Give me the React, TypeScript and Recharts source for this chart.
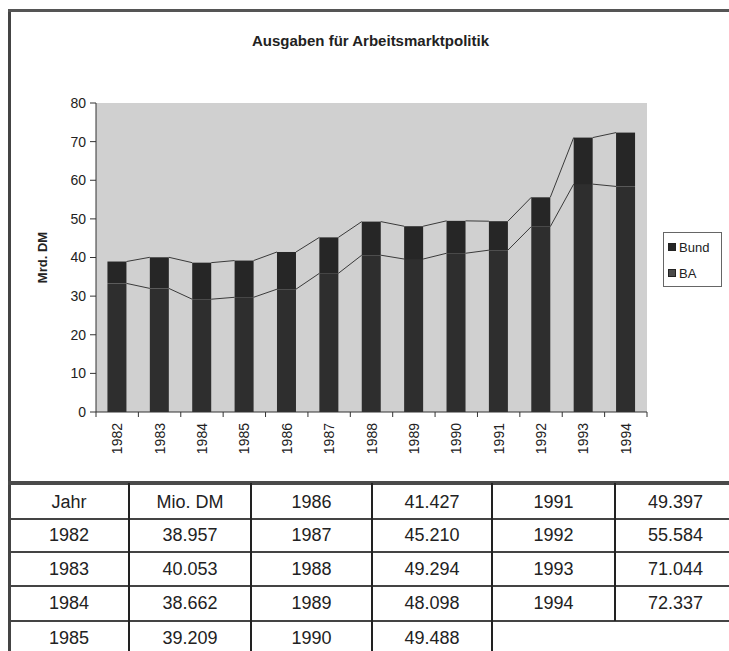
import React from 'react'
import { BarChart, Bar, XAxis, YAxis, CartesianGrid } from 'recharts'

// Jahre / Ausgaben gesamt (Mio. DM, aus der Tabelle) / Anteil BA (Mrd. DM, aus der Grafik geschaetzt)
const years = ['1982', '1983', '1984', '1985', '1986', '1987', '1988', '1989', '1990', '1991', '1992', '1993', '1994']
const totalsMio = [38957, 40053, 38662, 39209, 41427, 45210, 49294, 48098, 49488, 49397, 55584, 71044, 72337]
const baMrd = [33.3, 32.0, 29.2, 29.7, 31.8, 35.9, 40.6, 39.6, 41.1, 41.9, 48.0, 59.0, 58.4]
const yTicks = [0, 10, 20, 30, 40, 50, 60, 70, 80]

const data = years.map((year, i) => ({
  year,
  BA: baMrd[i],
  Bund: totalsMio[i] / 1000 - baMrd[i],
}))

const FONT = '"Liberation Sans", Arial, sans-serif'
const BUND_COLOR = '#262626'
const BA_COLOR = '#2e2e2e'

const fmtMio = (v: number) => `${Math.floor(v / 1000)}.${String(v % 1000).padStart(3, '0')}`

// Bund bars are on top of the stack; each one draws the Excel-like series lines back to the previous bar
const prevBars: { x: number; y: number; width: number; height: number }[] = []

const BundShape = (props: any) => {
  const { x, y, width, height, fill, payload } = props
  const i = years.indexOf(payload.year)
  prevBars[i] = { x, y, width, height }
  const prev = i > 0 ? prevBars[i - 1] : undefined
  return (
    <g>
      <rect x={x} y={y} width={width} height={height} fill={fill} />
      {prev && (
        <>
          <line x1={prev.x + prev.width} y1={prev.y} x2={x} y2={y} stroke="#3a3a3a" strokeWidth={1} />
          <line x1={prev.x + prev.width} y1={prev.y + prev.height} x2={x} y2={y + height} stroke="#3a3a3a" strokeWidth={1} />
        </>
      )}
    </g>
  )
}

const YearTick = (props: any) => {
  const { x, y, payload, index } = props
  const off = payload.offset || 0
  return (
    <g>
      <line x1={x - off} y1={y} x2={x - off} y2={y + 5} stroke="#333" />
      {index === years.length - 1 && <line x1={x + off} y1={y} x2={x + off} y2={y + 5} stroke="#333" />}
      <text x={x} y={y + 11} transform={`rotate(-90, ${x}, ${y + 11})`} textAnchor="end" dominantBaseline="central"
        fontSize={14} fontFamily={FONT} fill="#222">
        {payload.value}
      </text>
    </g>
  )
}

const legendItems = [
  { name: 'Bund', color: BUND_COLOR },
  { name: 'BA', color: '#4a4a4a' },
]

const hLines = [519, 552, 586, 621]
const vLines = [129, 251, 372, 492]
const colX = [9, 129, 251, 372, 492, 615, 736]
const rowY = [483, 519, 552, 586, 621, 655]

const App: React.FC = () => {
  const cells: { col: number; row: number; text: string }[] = []
  const entries = [['Jahr', 'Mio. DM'], ...years.map((y, i) => [y, fmtMio(totalsMio[i])])]
  entries.forEach((e, k) => {
    const pair = k < 5 ? 0 : k < 10 ? 1 : 2
    const row = k < 5 ? k : k < 10 ? k - 5 : k - 10
    cells.push({ col: pair * 2, row, text: e[0] })
    cells.push({ col: pair * 2 + 1, row, text: e[1] })
  })

  return (
    <div style={{ position: 'absolute', left: 0, top: 0, width: 729, height: 651, background: '#fff', overflow: 'hidden', fontFamily: FONT }}>
      {/* frame */}
      <div style={{ position: 'absolute', left: 8, top: 9, width: 3, height: 642, background: '#444' }} />
      <div style={{ position: 'absolute', left: 8, top: 9, width: 721, height: 3, background: '#555' }} />
      <div style={{ position: 'absolute', left: 0, top: 32, width: 729, textAlign: 'center', fontSize: 15, fontWeight: 'bold', color: '#222', paddingLeft: 12, boxSizing: 'border-box' }}>
        Ausgaben für Arbeitsmarktpolitik
      </div>

      <div style={{ position: 'absolute', left: 0, top: 0 }}>
        <BarChart width={729} height={483} data={data} barCategoryGap="27%"
          margin={{ top: 103, right: 82, left: 56, bottom: 21 }}>
          <CartesianGrid horizontal={false} vertical={false} fill="#d0d0d0" />
          <XAxis dataKey="year" height={50} tickSize={0} tickMargin={0} interval={0} tick={<YearTick />}
            axisLine={{ stroke: '#333' }} tickLine={false} />
          <XAxis xAxisId="top" orientation="top" height={0} tick={false} tickLine={false} axisLine={{ stroke: '#555' }} />
          <YAxis width={40} domain={[0, 80]} ticks={yTicks} tickSize={6} tickMargin={4} interval={0}
            tick={{ fontSize: 14, fontFamily: FONT, fill: '#222' }} axisLine={{ stroke: '#333' }} tickLine={{ stroke: '#333' }}
            label={{ value: 'Mrd. DM', angle: -90, position: 'left', offset: 14, style: { textAnchor: 'middle', fontSize: 13, fontWeight: 'bold', fontFamily: FONT, fill: '#222' } }} />
          <YAxis yAxisId="right" orientation="right" width={0} domain={[0, 80]} tick={false} tickLine={false} axisLine={{ stroke: '#888' }} />
          <Bar dataKey="BA" stackId="a" fill={BA_COLOR} isAnimationActive={false} />
          <Bar dataKey="Bund" stackId="a" fill={BUND_COLOR} isAnimationActive={false} shape={<BundShape />} />
        </BarChart>
      </div>

      {/* legend */}
      <div style={{ position: 'absolute', left: 663, top: 232, width: 59, height: 55, border: '1px solid #666', boxSizing: 'border-box', fontSize: 13, color: '#222', padding: '5px 0 0 4px' }}>
        {legendItems.map((it, i) => (
          <div key={it.name} style={{ display: 'flex', alignItems: 'center', height: 18, marginTop: i ? 8 : 0 }}>
            <span style={{ width: 8, height: 8, background: it.color, border: '1px solid #222', boxSizing: 'border-box', marginRight: 3 }} />
            {it.name}
          </div>
        ))}
      </div>

      {/* table */}
      <div style={{ position: 'absolute', left: 8, top: 481, width: 721, height: 4, background: '#4a4a4a' }} />
      {hLines.map((y) => (
        <div key={'h' + y} style={{ position: 'absolute', left: 9, top: y - 1, width: 720, height: 2, background: '#444' }} />
      ))}
      {vLines.map((x) => (
        <div key={'v' + x} style={{ position: 'absolute', left: x - 1, top: 483, width: 2, height: 168, background: '#222' }} />
      ))}
      <div style={{ position: 'absolute', left: 614, top: 483, width: 2, height: 138, background: '#222' }} />
      {cells.map((c) => (
        <div key={c.col + '-' + c.row} style={{
          position: 'absolute', left: colX[c.col], width: colX[c.col + 1] - colX[c.col],
          top: rowY[c.row] + (c.row === 0 ? 2 : 0), height: rowY[c.row + 1] - rowY[c.row] - (c.row === 0 ? 2 : 0),
          display: 'flex', alignItems: 'center', justifyContent: 'center', fontSize: 18, color: '#222',
        }}>
          {c.text}
        </div>
      ))}
    </div>
  )
}

export default App
